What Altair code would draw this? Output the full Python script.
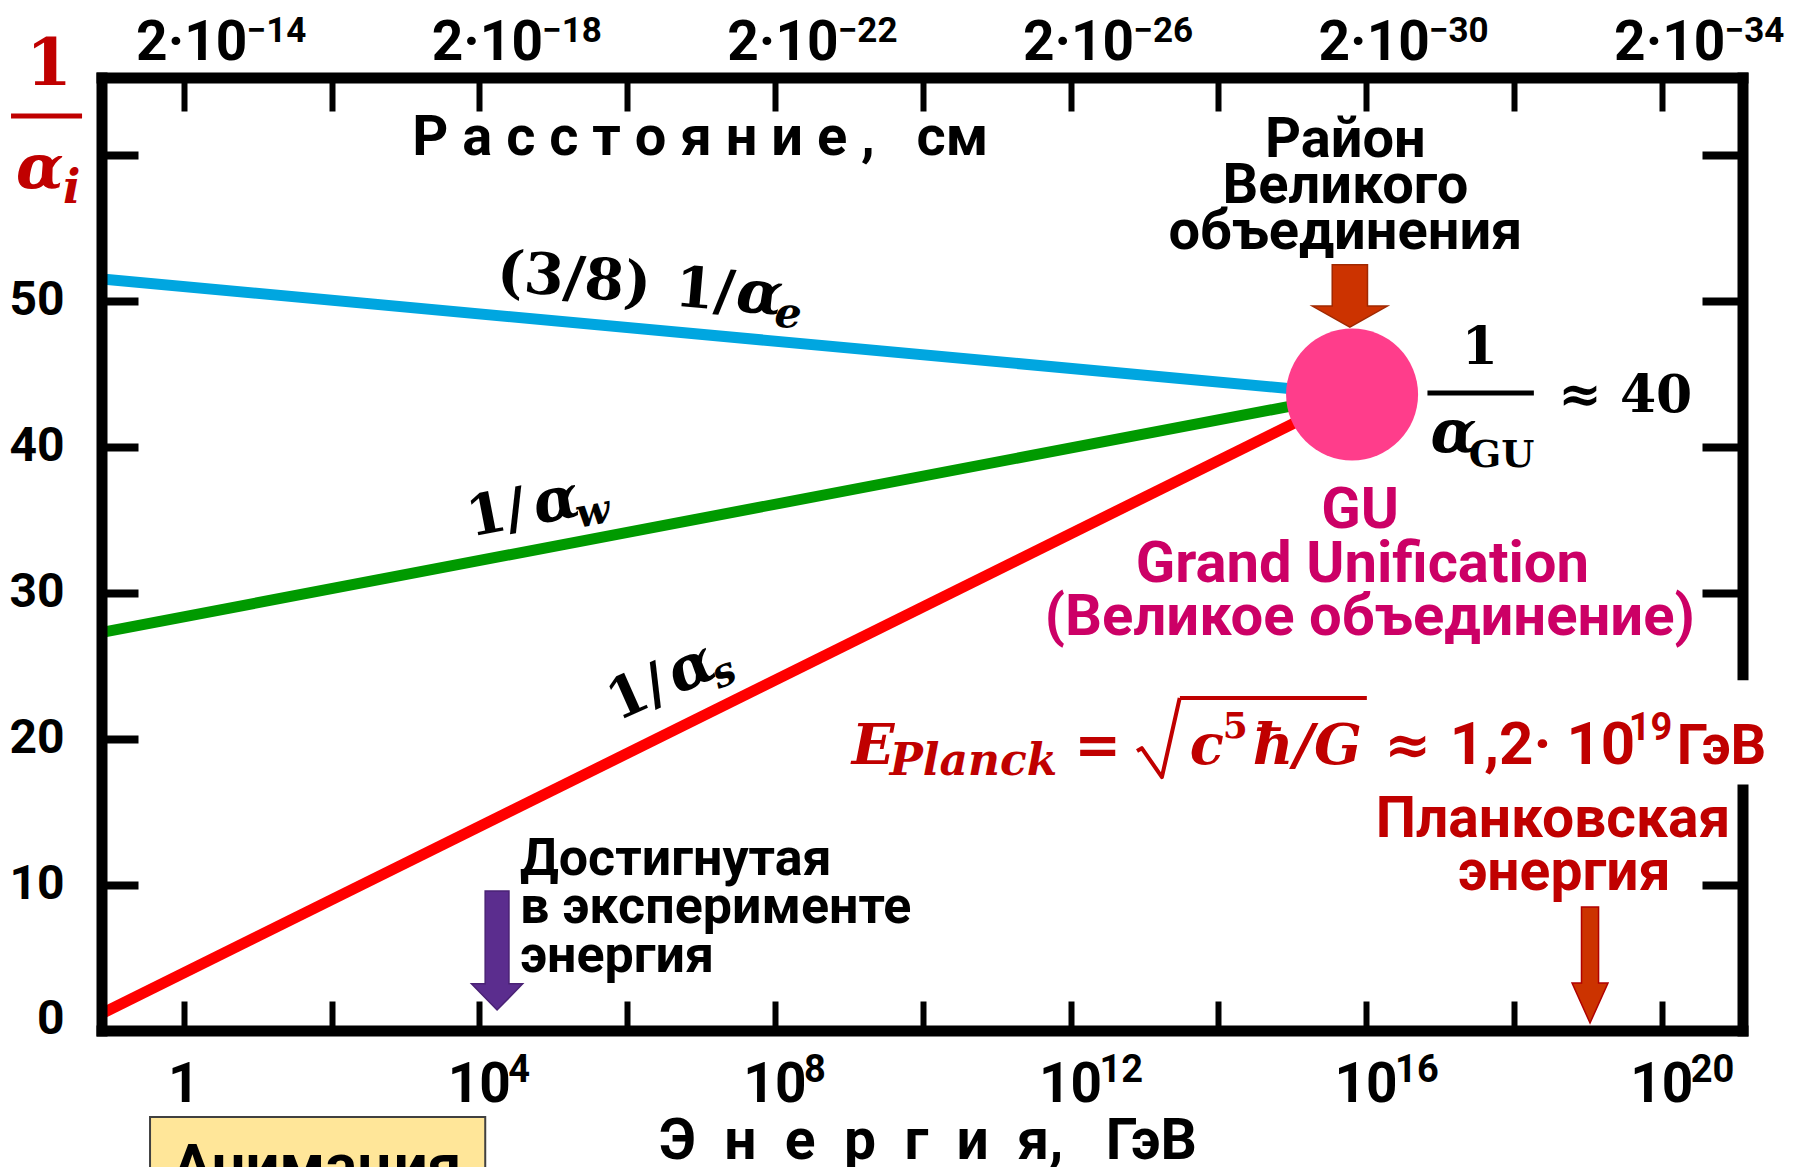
import altair as alt
import pandas as pd

# ---------------- data ----------------
# x: log10(E / GeV)   y: inverse coupling constant 1/alpha
X_DOMAIN = [-1.106, 21.10]
Y_DOMAIN = [0.0, 65.27]

series_names = ["(3/8) 1/αe", "1/αw", "1/αs"]
line_logE = [-1.106, 15.81]
inv_alpha_e38 = [51.5, 43.6]
inv_alpha_w = [27.3, 43.6]
inv_alpha_s = [1.2, 43.6]

gu_logE = [15.81]
gu_inv_alpha = [43.6]

y_tick_values = [0, 10, 20, 30, 40, 50, 60]
y_tick_values_right = [10, 30, 40, 50, 60]
x_tick_values = [0, 2, 4, 6, 8, 10, 12, 14, 16, 18, 20]
x_label_values = [0, 4, 8, 12, 16, 20]
energy_base = ["1", "10", "10", "10", "10", "10"]
energy_exp = ["", "4", "8", "12", "16", "20"]
distance_base = ["2·10", "2·10", "2·10", "2·10", "2·10", "2·10"]
distance_exp = ["−14", "−18", "−22", "−26", "−30", "−34"]

right_axis_gap = [16.5, 24.4]

# ---------------- styles ----------------
SANS = "Roboto"
SERIF = "DejaVu Serif"
BLACK = "#000000"
DARKRED = "#C00000"
MAGENTA = "#CC0066"
series_colors = ["#00A6E0", "#009A00", "#FF0000"]

XS = alt.Scale(domain=X_DOMAIN, nice=False, zero=False)
YS = alt.Scale(domain=Y_DOMAIN, nice=False, zero=False)
ONE = pd.DataFrame({"k": [0]})


def xd(v):
    return alt.XDatum(v, type="quantitative", scale=XS, axis=None)


def yd(v):
    return alt.YDatum(v, type="quantitative", scale=YS, axis=None)


def txt(x, y, text, size, font=SANS, bold=True, italic=False, color=BLACK,
        align="left", dx=0, dy=0, angle=0, **kw):
    props = dict(text=text, fontSize=size, font=font,
                 fontWeight="bold" if bold else "normal",
                 fontStyle="italic" if italic else "normal",
                 color=color, align=align, baseline="alphabetic",
                 dx=dx, dy=dy, angle=angle % 360)
    props.update(kw)
    return alt.Chart(ONE).mark_text(**props).encode(x=xd(x), y=yd(y))


def arrow(x, y, path, size, fill, stroke):
    return alt.Chart(ONE).mark_point(
        shape=path, size=size, filled=True, fill=fill, stroke=stroke,
        strokeWidth=1.5, opacity=1
    ).encode(x=xd(x), y=yd(y))


def hrule(x1, x2, y, color, width):
    return alt.Chart(ONE).mark_rule(color=color, strokeWidth=width).encode(
        x=xd(x1), x2=alt.X2Datum(x2), y=yd(y))


# ---------------- tables ----------------
lines_df = pd.DataFrame({
    "series": [s for s in series_names for _ in line_logE],
    "x": line_logE * 3,
    "v": inv_alpha_e38 + inv_alpha_w + inv_alpha_s,
})
gu_df = pd.DataFrame({"x": gu_logE, "v": gu_inv_alpha})
energy_df = pd.DataFrame({"pos": x_label_values, "base": energy_base, "exp": energy_exp})
dist_df = pd.DataFrame({"pos": x_label_values, "base": distance_base, "exp": distance_exp})
frame_h = pd.DataFrame({"x": [X_DOMAIN[0]] * 2, "x2": [X_DOMAIN[1]] * 2, "y": [Y_DOMAIN[1], Y_DOMAIN[0]]})
frame_v = pd.DataFrame({
    "x": [X_DOMAIN[0], X_DOMAIN[1], X_DOMAIN[1]],
    "y": [Y_DOMAIN[0], Y_DOMAIN[0], right_axis_gap[1]],
    "y2": [Y_DOMAIN[1], right_axis_gap[0], Y_DOMAIN[1]],
})

# ---------------- axes (ticks point inward) ----------------
ax_bottom = alt.Axis(orient="bottom", values=x_tick_values, offset=-30, tickSize=30,
                     tickWidth=6, tickColor=BLACK, labels=False, domain=False,
                     grid=False, title=None)
ax_left = alt.Axis(orient="left", values=y_tick_values, offset=-36, tickSize=36,
                   tickWidth=8, tickColor=BLACK,
                   labelExpr="datum.value == 60 ? '' : datum.label",
                   labelFont=SANS, labelFontSize=48, labelFontWeight="bold",
                   labelColor=BLACK, labelPadding=38, labelFlush=True,
                   labelFlushOffset=12, labelOverlap=False, domain=False,
                   grid=False, title=None)
ax_top = alt.Axis(orient="top", values=x_tick_values, offset=-33, tickSize=33,
                  tickWidth=6, tickColor=BLACK, labels=False, domain=False,
                  grid=False, title=None)
ax_right = alt.Axis(orient="right", values=y_tick_values_right, offset=-41, tickSize=41,
                    tickWidth=8, tickColor=BLACK, labels=False, domain=False,
                    grid=False, title=None)

layers = []

layers.append(alt.Chart(lines_df).mark_line(strokeWidth=11, strokeCap="butt").encode(
    x=alt.X("x:Q", scale=XS, axis=ax_bottom),
    y=alt.Y("v:Q", scale=YS, axis=ax_left),
    color=alt.Color("series:N", scale=alt.Scale(domain=series_names, range=series_colors), legend=None),
))

layers.append(alt.Chart(gu_df).mark_circle(size=17424, color="#FF3D8B", opacity=1).encode(
    x=alt.X("x:Q", scale=XS, axis=ax_top),
    y=alt.Y("v:Q", scale=YS, axis=ax_right),
))

# frame
layers.append(alt.Chart(frame_h).mark_rule(color=BLACK, strokeWidth=11, strokeCap="square").encode(
    x=alt.X("x:Q", scale=XS, axis=None), x2="x2:Q", y=alt.Y("y:Q", scale=YS, axis=None)))
layers.append(alt.Chart(frame_v).mark_rule(color=BLACK, strokeWidth=11, strokeCap="square").encode(
    x=alt.X("x:Q", scale=XS, axis=None), y=alt.Y("y:Q", scale=YS, axis=None), y2="y2:Q"))

# tick labels: energy (bottom) and distance (top)
layers.append(alt.Chart(energy_df).mark_text(font=SANS, fontSize=55, fontWeight="bold", align="center",
                                             baseline="alphabetic", color=BLACK).encode(
    x=alt.X("pos:Q", scale=XS, axis=None), y=alt.value(1024), text="base:N"))
layers.append(alt.Chart(energy_df).mark_text(font=SANS, fontSize=38, fontWeight="bold", align="left",
                                             baseline="alphabetic", color=BLACK, dx=29).encode(
    x=alt.X("pos:Q", scale=XS, axis=None), y=alt.value(1004), text="exp:N"))
layers.append(alt.Chart(dist_df).mark_text(font=SANS, fontSize=55, fontWeight="bold", align="center",
                                           baseline="alphabetic", color=BLACK, dx=8).encode(
    x=alt.X("pos:Q", scale=XS, axis=None), y=alt.value(-18), text="base:N"))
layers.append(alt.Chart(dist_df).mark_text(font=SANS, fontSize=35, fontWeight="bold", align="left",
                                           baseline="alphabetic", color=BLACK, dx=63).encode(
    x=alt.X("pos:Q", scale=XS, axis=None), y=alt.value(-36), text="exp:N"))

# axis titles
NB = "\u00a0"
dist_title = NB.join("Расстояние,") + NB * 3 + "см"
energy_title = (NB * 2).join("Энергия") + "," + NB * 3 + "ГэВ"
layers.append(txt(6.99, 60.0, dist_title, 56, align="center"))
layers.append(txt(10.07, -8.80, energy_title, 57, align="center"))

# y title 1/alpha_i
layers.append(txt(-1.823, 64.8, "1", 66, font=SERIF, color=DARKRED, align="center"))
layers.append(hrule(-2.337, -1.376, 62.67, DARKRED, 5))
layers.append(txt(-2.27, 57.74, "α", 62, font=SERIF, italic=True, color=DARKRED))
layers.append(txt(-1.633, 56.71, "i", 46, font=SERIF, italic=True, color=DARKRED))

# line labels
layers.append(txt(7.46, 49.32, "(3/8)", 57, font=SERIF, align="right", dx=-86, angle=5))
layers.append(txt(7.46, 49.32, "1/", 56, font=SERIF, align="right", dx=-2, angle=5))
layers.append(txt(7.46, 49.32, "α", 60, font=SERIF, italic=True, angle=5))
layers.append(txt(7.46, 49.32, "e", 42, font=SERIF, italic=True, dx=40, dy=12, angle=5))

layers.append(txt(4.78, 34.73, "1/", 56, font=SERIF, align="right", dx=-8, angle=-11))
layers.append(txt(4.78, 34.73, "α", 60, font=SERIF, italic=True, angle=-11))
layers.append(txt(4.78, 34.73, "w", 40, font=SERIF, italic=True, dx=40, dy=12, angle=-11))

layers.append(txt(6.68, 23.04, "1/", 56, font=SERIF, align="right", dx=-6, angle=-24))
layers.append(txt(6.68, 23.04, "α", 60, font=SERIF, italic=True, angle=-24))
layers.append(txt(6.68, 23.04, "s", 40, font=SERIF, italic=True, dx=40, dy=12, angle=-24))

# GU region labels
layers.append(txt(15.72, 59.86, "Район", 56, align="center"))
layers.append(txt(15.72, 56.71, "Великого", 56, align="center"))
layers.append(txt(15.72, 53.56, "объединения", 56, align="center"))
layers.append(arrow(15.78, 50.34,
                    "M-0.47,-0.83L0.47,-0.83L0.47,0.27L1,0.27L0,0.83L-1,0.27L-0.47,0.27Z",
                    5625, "#CC3300", "#A02800"))
layers.append(txt(17.54, 45.68, "1", 52, font=SERIF, align="center"))
layers.append(hrule(16.83, 18.27, 43.70, BLACK, 5))
layers.append(txt(16.87, 39.66, "α", 60, font=SERIF, italic=True))
layers.append(txt(17.39, 38.63, "GU", 38, font=SERIF))
layers.append(txt(18.60, 42.40, "≈ 40", 52, font=SERIF))
layers.append(txt(15.92, 34.45, "GU", 58, color=MAGENTA, align="center"))
layers.append(txt(15.95, 30.75, "Grand Unification", 58, color=MAGENTA, align="center"))
layers.append(txt(16.05, 27.12, "(Великое объединение)", 58, color=MAGENTA, align="center"))

# Planck energy formula
PX, PY = 9.04, 18.29
layers.append(txt(PX, PY, "E", 56, font=SERIF, italic=True, color=DARKRED))
layers.append(txt(PX, PY, "Planck", 44, font=SERIF, italic=True, color=DARKRED, dx=38, dy=11))
layers.append(txt(PX, PY, "=", 56, font=SERIF, color=DARKRED, align="center", dx=246))
# radical sign drawn as a stroked symbol
layers.append(alt.Chart(ONE).mark_point(
    shape="M-0.58,0.34L-0.46,0.27L0.05,1L0.5,-1", size=6241, filled=False,
    stroke=DARKRED, strokeWidth=4, strokeJoin="round", opacity=1
).encode(x=xd(13.21), y=yd(20.10)))
layers.append(hrule(13.48, 16.01, 22.81, DARKRED, 4))
layers.append(txt(PX, PY, "c", 56, font=SERIF, italic=True, color=DARKRED, dx=338))
layers.append(txt(PX, PY, "5", 36, font=SERIF, color=DARKRED, dx=371, dy=-26))
layers.append(txt(PX, PY, "ħ/G", 56, font=SERIF, italic=True, color=DARKRED, dx=401))
layers.append(txt(PX, PY, "≈", 56, font=SERIF, color=DARKRED, align="center", dx=556))
layers.append(txt(PX, PY, "1,2· 10", 60, color=DARKRED, dx=598))
layers.append(txt(PX, PY, "19", 38, color=DARKRED, dx=777, dy=-24))
layers.append(txt(PX, PY, "ГэВ", 56, color=DARKRED, dx=825))

# Planck energy label + arrow
layers.append(txt(18.53, 13.29, "Планковская", 57, color=DARKRED, align="center"))
layers.append(txt(18.68, 9.66, "энергия", 57, color=DARKRED, align="center"))
layers.append(arrow(19.03, 4.52,
                    "M-0.147,-1L0.147,-1L0.147,0.31L0.31,0.31L0,1L-0.31,0.31L-0.147,0.31Z",
                    13456, "#CC3300", "#B00000"))

# experiment energy label + arrow
layers.append(txt(4.55, 10.68, "Достигнутая", 52))
layers.append(txt(4.55, 7.40, "в эксперименте", 52))
layers.append(txt(4.55, 4.04, "энергия", 52))
layers.append(arrow(4.24, 5.51,
                    "M-0.2,-1L0.2,-1L0.2,0.56L0.43,0.56L0,1L-0.43,0.56L-0.2,0.56Z",
                    14161, "#5B2D8E", "#4A2275"))

# animation button
layers.append(alt.Chart(ONE).mark_rect(fill="#FFE699", stroke="#404040", strokeWidth=2).encode(
    x=xd(-0.456), x2=alt.X2Datum(4.08), y=yd(-5.89), y2=alt.Y2Datum(-12)))
layers.append(txt(1.80, -10.6, "Анимация", 60, align="center"))

chart = alt.layer(*layers).resolve_axis(x="independent", y="independent").properties(
    width=1641, height=953,
    padding={"left": 94, "top": 70, "right": 42, "bottom": 136},
    autosize=alt.AutoSizeParams(type="none"),
    background="white",
).configure_view(stroke=None)

chart.save("out.html", embed_options={"renderer": "svg", "actions": False})
